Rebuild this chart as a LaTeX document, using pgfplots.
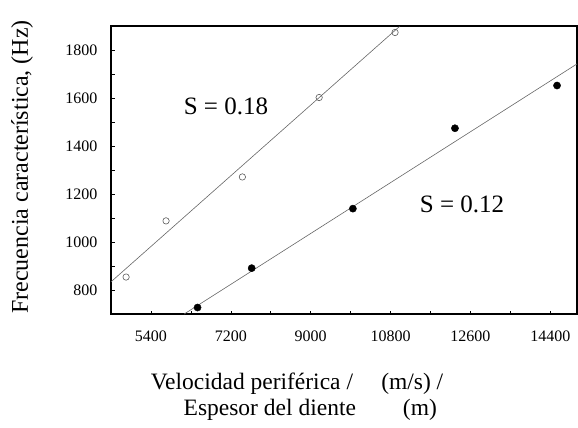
\documentclass[border=0pt]{standalone}
\usepackage{pgfplots}
\pgfplotsset{compat=1.18}
\usepackage{fontspec}
\setmainfont{Liberation Serif}
\begin{document}
\begin{tikzpicture}
\begin{axis}[
  at={(0pt,0pt)}, anchor=south west,
  scale only axis, width=466pt, height=288pt,
  xmin=4500, xmax=15000, ymin=700, ymax=1900,
  scaled ticks=false,
  xtick={5400,7200,9000,10800,12600,14400},
  minor xtick={6300,8100,9900,11700,13500},
  ytick={800,1000,1200,1400,1600,1800},
  minor ytick={900,1100,1300,1500,1700},
  tick pos=left, tick align=inside,
  major tick length=3.5pt, minor tick length=3.5pt,
  every tick/.style={black, line width=0.6pt},
  axis line style={line width=1.1pt},
  /pgf/number format/1000 sep={},
  /pgf/number format/assume math mode=true,
  tick label style={font=\fontsize{16}{18}\selectfont},
  xticklabel style={yshift=-13pt},
  yticklabel style={xshift=-10pt},
  clip=true,
]
% fitted lines
\addplot[gray!80!black, line width=0.6pt] coordinates {(4500,834) (11000,1898)};
\addplot[gray!80!black, line width=0.6pt] coordinates {(6150,700) (15000,1742)};
% S = 0.18 (open)
\addplot[only marks, mark=o, mark size=3.2pt, gray!70!black, mark options={line width=0.6pt}] coordinates {
(4840,854) (5740,1088) (7460,1271) (9190,1602) (10900,1873)};
% S = 0.12 (filled)
\addplot[only marks, mark=*, mark size=3.6pt, black] coordinates {
(6450,727) (7670,891) (9950,1139) (12250,1474) (14550,1652)};
\node[font=\fontsize{25}{27}\selectfont] at (axis cs:7090,1566) {S = 0.18};
\node[font=\fontsize{25}{27}\selectfont] at (axis cs:12410,1157) {S = 0.12};
\end{axis}
\node[rotate=90, font=\fontsize{24}{26}\selectfont] at (-89pt,147pt) {Frecuencia característica, (Hz)};
\node[font=\fontsize{23.5}{26}\selectfont, align=left] at (186pt,-83pt) {Velocidad periférica /\hspace{1.2em}(m/s) /\\\hspace{1.4em}Espesor del diente\hspace{2.0em}(m)};
\pgfresetboundingbox
\path (-111pt,-114pt) rectangle (467pt,314pt);
\end{tikzpicture}
\end{document}
